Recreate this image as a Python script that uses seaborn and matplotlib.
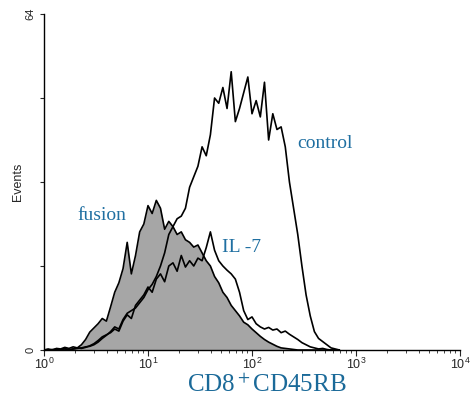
import numpy as np
import pandas as pd
import matplotlib
matplotlib.use("Agg")
import matplotlib.pyplot as plt
from matplotlib.ticker import LogLocator, FixedLocator, NullFormatter
import seaborn as sns

# channel centres (log10 of fluorescence), 0.04-decade channels
channel_log = np.round(np.arange(72) * 0.04, 2)

fusion = [0, 0.2, 0, 0.3, 0.2, 0.5, 0.3, 0.6, 0.4, 1.0,
          2.0, 3.4, 4.2, 5.0, 6.0, 5.5, 8.2, 11.0, 12.8, 15.5,
          20.5, 14.5, 18.0, 22.5, 24.0, 27.5, 26.0, 28.5, 27.0, 23.0,
          24.5, 23.5, 22.0, 22.5, 21.0, 20.5, 19.6, 20.0, 18.5, 17.0,
          16.0, 14.0, 12.8, 11.0, 10.0, 8.5, 7.5, 6.5, 5.3, 4.8,
          4.0, 3.3, 2.6, 2.0, 1.5, 1.1, 0.7, 0.4, 0.3, 0.2,
          0.1, 0, 0, 0, 0, 0, 0, 0, 0, 0,
          0, 0]

il7 = [0, 0, 0, 0.2, 0, 0.3, 0, 0.2, 0.4, 0.3,
       0.5, 0.8, 1.2, 1.8, 2.5, 2.9, 3.3, 4.0, 3.6, 5.5,
       6.7, 6.0, 8.5, 9.5, 10.5, 12.0, 11.0, 13.5, 14.5, 13.0,
       16.0, 16.6, 15.0, 18.0, 15.8, 17.0, 16.0, 17.5, 17.0, 19.5,
       22.5, 19.0, 17.0, 16.0, 15.2, 14.5, 13.5, 11.0, 7.5, 5.8,
       6.3, 5.0, 4.4, 4.0, 4.3, 3.8, 4.0, 3.3, 3.6, 3.0,
       2.5, 2.0, 1.4, 1.0, 0.6, 0.4, 0.2, 0.3, 0.1, 0,
       0, 0]

control = [0, 0, 0.1, 0, 0, 0.2, 0, 0.2, 0.3, 0.4,
           0.6, 0.7, 1.0, 1.5, 2.2, 2.8, 3.5, 4.4, 4.0, 5.8,
           7.0, 7.5, 8.0, 9.0, 10.0, 11.5, 12.5, 14.0, 16.0, 18.5,
           22.0, 23.5, 25.0, 25.5, 27.0, 31.0, 33.0, 35.0, 38.7, 37.0,
           41.0, 48.0, 47.0, 50.0, 46.0, 53.0, 43.5, 46.0, 49.0, 52.0,
           45.0, 47.5, 44.4, 51.0, 40.0, 45.0, 42.0, 42.5, 38.7, 32.0,
           27.0, 22.0, 16.0, 10.5, 6.5, 3.5, 2.2, 1.6, 1.0, 0.4,
           0.2, 0]

series_labels = ["fusion", "IL -7", "control"]
x_label = "CD8$^+$CD45RB"
y_label = "Events"
y_ticks = [0, 16, 32, 48, 64]
y_ticklabels = ["0", "", "", "", "64"]

df = pd.DataFrame({
    "fl": 10 ** channel_log,
    "fusion": fusion,
    "il7": il7,
    "control": control,
})

sns.set_style("ticks")
plt.rcParams["font.family"] = ["Liberation Sans", "DejaVu Sans"]
plt.rcParams["mathtext.fontset"] = "custom"
plt.rcParams["mathtext.rm"] = "Liberation Sans"

fig = plt.figure(figsize=(4.74, 3.98), dpi=100)
ax = fig.add_axes([44 / 474, 1 - 350 / 398, 416 / 474, 336 / 398])

ax.fill_between(df["fl"], df["fusion"], color="#a6a6a6", lw=0, zorder=1)
for col in ["fusion", "il7", "control"]:
    sns.lineplot(data=df, x="fl", y=col, ax=ax, color="black", lw=1.2,
                 estimator=None, sort=False, zorder=3)

ax.set_xscale("log")
ax.set_xlim(1, 1e4)
ax.set_ylim(0, 64)
ax.xaxis.set_major_locator(LogLocator(base=10, numticks=10))
ax.xaxis.set_minor_locator(LogLocator(base=10, subs=np.arange(2, 10), numticks=20))
ax.xaxis.set_minor_formatter(NullFormatter())
ax.yaxis.set_major_locator(FixedLocator(y_ticks))
ax.set_yticklabels(y_ticklabels, rotation=90, va="center", fontsize=8)
ax.tick_params(axis="x", which="major", length=4, width=0.8, labelsize=9, pad=1,
               direction="out")
ax.tick_params(axis="x", which="minor", length=2, width=0.6, direction="out")
ax.tick_params(axis="y", which="major", length=3, width=0.8, pad=3)

for s in ["top", "right"]:
    ax.spines[s].set_visible(False)
for s in ["left", "bottom"]:
    ax.spines[s].set_linewidth(1.0)
    ax.spines[s].set_color("black")

ax.set_ylabel(y_label, fontsize=9, labelpad=1)
ax.set_xlabel("")
fig.text(267 / 474, 1 - 385 / 398, x_label, ha="center", va="center",
         fontsize=18, color="#1b6a99", family="Liberation Serif",
         math_fontfamily="stix")

txt_color = "#1f6fa1"
ax.text(10 ** ((297 - 44) / 104), 64 * (350 - 143) / 336, "control", fontsize=14,
        family="Liberation Serif", color=txt_color, ha="left", va="center")
ax.text(10 ** ((77 - 44) / 104), 64 * (350 - 215) / 336, "fusion", fontsize=14,
        family="Liberation Serif", color=txt_color, ha="left", va="center")
ax.text(10 ** ((222 - 44) / 104), 64 * (350 - 247) / 336, series_labels[1], fontsize=14,
        family="Liberation Serif", color=txt_color, ha="left", va="center")

fig.savefig("out.png", dpi=100)
